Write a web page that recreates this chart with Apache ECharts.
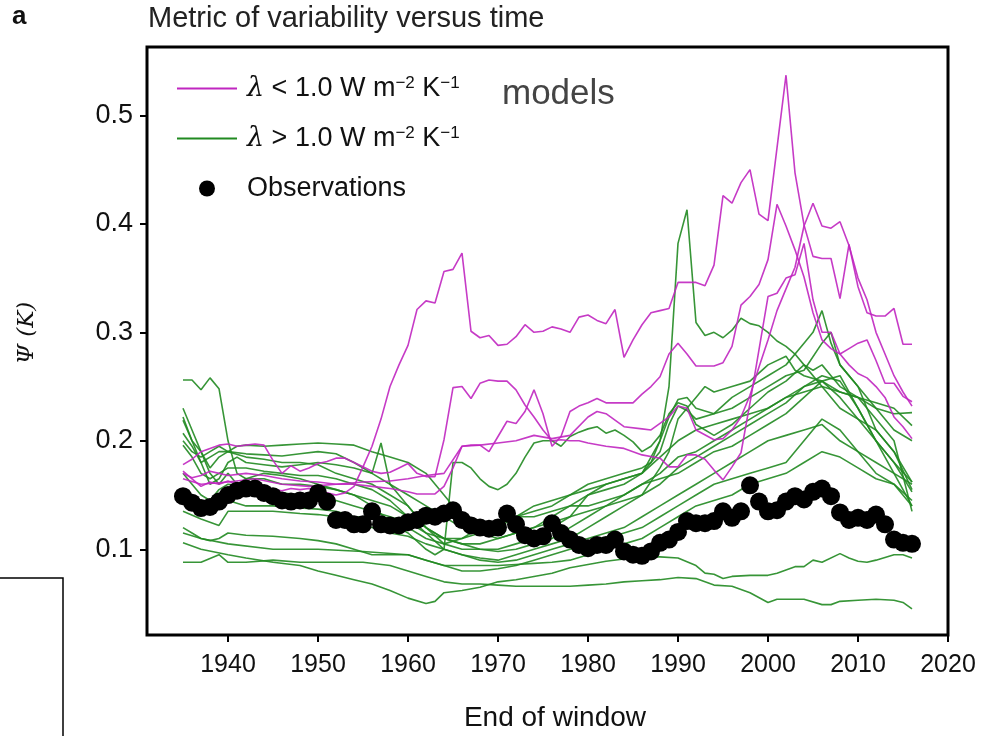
<!DOCTYPE html>
<html>
<head>
<meta charset="utf-8">
<script src="https://cdn.jsdelivr.net/npm/echarts@6/dist/echarts.min.js"></script>
<style>
  html, body { margin: 0; padding: 0; background: #fff; }
  #chart { width: 981px; height: 736px; }
</style>
</head>
<body>
<div id="chart"></div>
<script>
// observations, one per end year
const obsYears = [1935,1936,1937,1938,1939,1940,1941,1942,1943,1944,1945,1946,1947,1948,1949,1950,1951,1952,1953,1954,1955,1956,1957,1958,1959,1960,1961,1962,1963,1964,1965,1966,1967,1968,1969,1970,1971,1972,1973,1974,1975,1976,1977,1978,1979,1980,1981,1982,1983,1984,1985,1986,1987,1988,1989,1990,1991,1992,1993,1994,1995,1996,1997,1998,1999,2000,2001,2002,2003,2004,2005,2006,2007,2008,2009,2010,2011,2012,2013,2014,2015,2016]
const obsValues = [0.149,0.143,0.138,0.139,0.144,0.150,0.154,0.156,0.156,0.152,0.149,0.145,0.144,0.145,0.145,0.152,0.144,0.127,0.127,0.123,0.123,0.135,0.123,0.122,0.122,0.125,0.127,0.131,0.130,0.133,0.136,0.127,0.122,0.120,0.119,0.120,0.133,0.123,0.113,0.110,0.112,0.124,0.115,0.109,0.104,0.101,0.104,0.104,0.109,0.098,0.095,0.094,0.098,0.106,0.109,0.116,0.126,0.124,0.124,0.126,0.135,0.129,0.135,0.159,0.144,0.135,0.136,0.144,0.149,0.146,0.153,0.156,0.149,0.134,0.127,0.129,0.127,0.132,0.123,0.109,0.106,0.105]

// models with lambda < 1.0
const magA = [[1935,0.172],[1936,0.165],[1937,0.158],[1938,0.162],[1939,0.160],[1940,0.163],[1941,0.160],[1942,0.158],[1943,0.160],[1944,0.157],[1945,0.155],[1946,0.154],[1947,0.156],[1948,0.155],[1949,0.156],[1950,0.155],[1951,0.152],[1952,0.150],[1953,0.152],[1954,0.158],[1955,0.176],[1956,0.195],[1957,0.220],[1958,0.250],[1959,0.270],[1960,0.288],[1961,0.321],[1962,0.329],[1963,0.327],[1964,0.356],[1965,0.358],[1966,0.373],[1967,0.301],[1968,0.295],[1969,0.297],[1970,0.288],[1971,0.289],[1972,0.296],[1973,0.307],[1974,0.300],[1975,0.301],[1976,0.305],[1977,0.303],[1978,0.300],[1979,0.314],[1980,0.316],[1981,0.311],[1982,0.308],[1983,0.321],[1984,0.277],[1985,0.293],[1986,0.307],[1987,0.318],[1988,0.320],[1989,0.322],[1990,0.346],[1991,0.346],[1992,0.346],[1993,0.343],[1994,0.362],[1995,0.426],[1996,0.419],[1997,0.438],[1998,0.450],[1999,0.409],[2000,0.403],[2001,0.470],[2002,0.537],[2003,0.447],[2004,0.399],[2005,0.370],[2006,0.368],[2007,0.368],[2008,0.331],[2009,0.381],[2010,0.342],[2011,0.318],[2012,0.315],[2013,0.315],[2014,0.322],[2015,0.289],[2016,0.289]]
const magB = [[1935,0.170],[1936,0.166],[1937,0.168],[1938,0.172],[1939,0.170],[1940,0.168],[1942,0.170],[1944,0.168],[1946,0.165],[1948,0.163],[1950,0.162],[1952,0.160],[1954,0.160],[1956,0.158],[1958,0.156],[1960,0.153],[1961,0.151],[1962,0.151],[1963,0.151],[1964,0.158],[1965,0.175],[1966,0.195],[1967,0.196],[1968,0.196],[1969,0.190],[1970,0.204],[1971,0.218],[1972,0.216],[1973,0.227],[1974,0.247],[1975,0.225],[1976,0.195],[1977,0.204],[1978,0.227],[1979,0.232],[1980,0.235],[1981,0.239],[1982,0.235],[1983,0.235],[1984,0.235],[1985,0.235],[1986,0.243],[1987,0.250],[1988,0.259],[1989,0.280],[1990,0.290],[1991,0.280],[1992,0.269],[1993,0.269],[1994,0.269],[1995,0.272],[1996,0.287],[1997,0.325],[1998,0.333],[1999,0.344],[2000,0.367],[2001,0.418],[2002,0.398],[2003,0.376],[2004,0.351],[2005,0.318],[2006,0.293],[2007,0.285],[2008,0.280],[2009,0.285],[2010,0.290],[2011,0.293],[2012,0.274],[2013,0.253],[2014,0.253],[2015,0.241],[2016,0.236]]
const magC = [[1935,0.178],[1936,0.183],[1937,0.190],[1938,0.193],[1939,0.196],[1940,0.197],[1941,0.195],[1942,0.196],[1943,0.197],[1944,0.196],[1945,0.182],[1946,0.170],[1947,0.177],[1948,0.172],[1949,0.175],[1950,0.179],[1951,0.181],[1952,0.184],[1953,0.184],[1954,0.180],[1955,0.176],[1956,0.172],[1957,0.170],[1958,0.171],[1959,0.175],[1960,0.179],[1961,0.170],[1962,0.167],[1963,0.167],[1964,0.201],[1965,0.249],[1966,0.250],[1967,0.239],[1968,0.253],[1969,0.256],[1970,0.255],[1971,0.255],[1972,0.247],[1973,0.233],[1974,0.222],[1975,0.210],[1976,0.200],[1977,0.201],[1978,0.200],[1979,0.200],[1980,0.198],[1982,0.195],[1984,0.193],[1986,0.187],[1988,0.184],[1989,0.176],[1990,0.176],[1991,0.187],[1992,0.187],[1993,0.183],[1994,0.173],[1995,0.164],[1996,0.176],[1997,0.189],[1998,0.235],[1999,0.284],[2000,0.333],[2001,0.336],[2002,0.350],[2003,0.353],[2004,0.382],[2005,0.330],[2006,0.300],[2007,0.300],[2008,0.280],[2009,0.270],[2010,0.262],[2011,0.258],[2012,0.250],[2013,0.240],[2014,0.222],[2015,0.213],[2016,0.202]]
const magD = [[1935,0.165],[1937,0.160],[1940,0.162],[1943,0.165],[1946,0.160],[1949,0.158],[1952,0.160],[1955,0.162],[1958,0.163],[1960,0.165],[1962,0.168],[1964,0.170],[1966,0.195],[1968,0.196],[1970,0.198],[1972,0.200],[1974,0.205],[1976,0.202],[1978,0.205],[1980,0.222],[1981,0.227],[1982,0.225],[1984,0.213],[1986,0.211],[1987,0.210],[1989,0.222],[1990,0.232],[1991,0.230],[1992,0.210],[1994,0.201],[1995,0.202],[1996,0.210],[1997,0.222],[1998,0.242],[1999,0.268],[2000,0.293],[2001,0.320],[2002,0.340],[2003,0.360],[2004,0.398],[2005,0.419],[2006,0.398],[2007,0.396],[2008,0.402],[2009,0.380],[2010,0.350],[2011,0.330],[2012,0.300],[2013,0.280],[2014,0.260],[2015,0.245],[2016,0.232]]

// models with lambda > 1.0
const grnA = [[1935,0.256],[1936,0.256],[1937,0.247],[1938,0.258],[1939,0.248],[1940,0.200],[1941,0.170],[1942,0.165],[1944,0.170],[1946,0.168],[1948,0.165],[1950,0.160],[1952,0.155],[1954,0.150],[1956,0.140],[1958,0.125],[1960,0.115],[1962,0.100],[1963,0.095],[1964,0.100],[1965,0.180],[1966,0.180],[1967,0.175],[1968,0.165],[1969,0.158],[1970,0.155],[1971,0.160],[1972,0.170],[1973,0.185],[1974,0.198],[1975,0.200],[1976,0.200],[1977,0.195],[1978,0.204],[1979,0.208],[1980,0.211],[1981,0.213],[1982,0.207],[1983,0.210],[1984,0.205],[1985,0.199],[1986,0.190],[1987,0.195],[1988,0.205],[1989,0.225],[1990,0.235],[1991,0.232],[1992,0.215],[1994,0.205],[1996,0.215],[1998,0.230],[2000,0.245],[2002,0.255],[2004,0.270],[2005,0.265],[2006,0.270],[2007,0.260],[2008,0.250],[2010,0.240],[2012,0.230],[2014,0.225],[2016,0.226]]
const grnB = [[1935,0.230],[1936,0.210],[1937,0.190],[1938,0.175],[1939,0.185],[1940,0.190],[1941,0.195],[1942,0.196],[1944,0.195],[1946,0.196],[1948,0.197],[1950,0.198],[1952,0.197],[1954,0.196],[1956,0.190],[1958,0.185],[1960,0.180],[1962,0.170],[1964,0.150],[1966,0.130],[1968,0.115],[1970,0.110],[1972,0.115],[1974,0.120],[1976,0.125],[1978,0.130],[1980,0.135],[1982,0.140],[1984,0.145],[1986,0.150],[1988,0.175],[1989,0.190],[1990,0.220],[1991,0.230],[1992,0.240],[1993,0.250],[1994,0.245],[1996,0.250],[1998,0.255],[2000,0.270],[2002,0.278],[2003,0.265],[2004,0.260],[2006,0.255],[2008,0.260],[2010,0.230],[2012,0.200],[2014,0.180],[2016,0.162]]
const grnC = [[1935,0.222],[1936,0.200],[1937,0.180],[1938,0.160],[1939,0.165],[1940,0.180],[1941,0.185],[1942,0.180],[1944,0.178],[1946,0.176],[1948,0.178],[1950,0.180],[1952,0.178],[1954,0.175],[1956,0.170],[1957,0.198],[1958,0.160],[1960,0.140],[1962,0.120],[1964,0.105],[1966,0.100],[1968,0.100],[1970,0.100],[1972,0.105],[1974,0.110],[1976,0.120],[1978,0.130],[1980,0.150],[1982,0.160],[1984,0.165],[1986,0.170],[1988,0.200],[1989,0.250],[1990,0.382],[1991,0.413],[1992,0.309],[1993,0.297],[1994,0.300],[1995,0.295],[1996,0.302],[1997,0.313],[1998,0.308],[1999,0.306],[2000,0.300],[2001,0.292],[2002,0.287],[2003,0.280],[2004,0.270],[2006,0.250],[2008,0.230],[2010,0.220],[2012,0.200],[2014,0.170],[2016,0.140]]
const grnD = [[1935,0.219],[1936,0.200],[1937,0.190],[1938,0.170],[1939,0.160],[1940,0.170],[1941,0.160],[1942,0.165],[1944,0.165],[1946,0.160],[1948,0.160],[1950,0.158],[1952,0.155],[1954,0.150],[1956,0.145],[1958,0.140],[1960,0.130],[1962,0.120],[1964,0.110],[1966,0.110],[1968,0.115],[1970,0.120],[1972,0.130],[1974,0.140],[1976,0.145],[1978,0.150],[1980,0.155],[1982,0.160],[1984,0.165],[1986,0.170],[1988,0.190],[1989,0.215],[1990,0.232],[1991,0.228],[1992,0.220],[1994,0.225],[1996,0.240],[1998,0.250],[2000,0.260],[2002,0.270],[2004,0.290],[2005,0.300],[2006,0.320],[2007,0.290],[2008,0.270],[2010,0.250],[2012,0.210],[2014,0.190],[2016,0.155]]
const grnE = [[1935,0.207],[1936,0.195],[1937,0.180],[1938,0.185],[1939,0.190],[1940,0.190],[1942,0.185],[1944,0.183],[1946,0.180],[1948,0.180],[1950,0.178],[1952,0.170],[1954,0.165],[1956,0.160],[1958,0.150],[1960,0.140],[1962,0.120],[1964,0.110],[1966,0.105],[1968,0.100],[1970,0.098],[1972,0.100],[1974,0.105],[1976,0.110],[1978,0.120],[1980,0.130],[1982,0.140],[1984,0.150],[1986,0.160],[1988,0.170],[1990,0.185],[1992,0.190],[1994,0.200],[1996,0.210],[1998,0.220],[2000,0.230],[2002,0.240],[2004,0.250],[2006,0.255],[2008,0.245],[2010,0.240],[2012,0.235],[2014,0.230],[2016,0.214]]
const grnF = [[1935,0.196],[1936,0.185],[1937,0.170],[1938,0.165],[1939,0.170],[1940,0.175],[1942,0.175],[1944,0.172],[1946,0.170],[1948,0.168],[1950,0.168],[1952,0.165],[1954,0.160],[1956,0.155],[1958,0.145],[1960,0.130],[1962,0.115],[1964,0.100],[1966,0.095],[1968,0.092],[1970,0.090],[1972,0.095],[1974,0.100],[1976,0.105],[1978,0.110],[1980,0.120],[1982,0.130],[1984,0.140],[1986,0.150],[1988,0.160],[1990,0.175],[1992,0.185],[1994,0.195],[1996,0.205],[1998,0.215],[2000,0.225],[2002,0.235],[2004,0.250],[2006,0.260],[2008,0.255],[2010,0.230],[2012,0.200],[2014,0.180],[2016,0.153]]
const grnG = [[1935,0.170],[1936,0.160],[1937,0.150],[1938,0.145],[1939,0.155],[1940,0.160],[1942,0.158],[1944,0.155],[1946,0.152],[1948,0.150],[1950,0.148],[1952,0.145],[1954,0.140],[1956,0.135],[1958,0.130],[1960,0.125],[1962,0.115],[1964,0.110],[1966,0.105],[1968,0.105],[1970,0.110],[1972,0.115],[1974,0.120],[1976,0.130],[1978,0.140],[1980,0.150],[1982,0.155],[1984,0.160],[1986,0.170],[1988,0.185],[1990,0.200],[1992,0.210],[1994,0.215],[1996,0.220],[1998,0.225],[2000,0.230],[2002,0.240],[2004,0.245],[2006,0.250],[2008,0.245],[2010,0.240],[2012,0.220],[2014,0.200],[2016,0.135]]
const grnH = [[1935,0.135],[1937,0.128],[1939,0.122],[1940,0.135],[1942,0.135],[1945,0.135],[1948,0.133],[1950,0.132],[1952,0.130],[1954,0.128],[1956,0.120],[1958,0.115],[1960,0.112],[1962,0.105],[1964,0.100],[1966,0.095],[1968,0.090],[1970,0.088],[1972,0.090],[1974,0.095],[1976,0.100],[1978,0.105],[1980,0.110],[1982,0.115],[1984,0.120],[1986,0.130],[1988,0.140],[1990,0.150],[1992,0.160],[1994,0.170],[1996,0.180],[1998,0.190],[2000,0.200],[2002,0.205],[2004,0.210],[2006,0.215],[2008,0.200],[2010,0.190],[2012,0.180],[2014,0.170],[2016,0.160]]
const grnI = [[1935,0.120],[1936,0.115],[1937,0.110],[1938,0.108],[1939,0.110],[1940,0.115],[1942,0.113],[1945,0.112],[1948,0.110],[1950,0.108],[1952,0.105],[1954,0.100],[1956,0.095],[1958,0.095],[1960,0.095],[1962,0.090],[1964,0.085],[1966,0.080],[1968,0.080],[1970,0.082],[1972,0.085],[1974,0.090],[1976,0.095],[1978,0.100],[1980,0.105],[1982,0.110],[1984,0.115],[1986,0.120],[1988,0.130],[1990,0.140],[1992,0.150],[1994,0.160],[1996,0.165],[1998,0.170],[2000,0.175],[2002,0.180],[2004,0.200],[2006,0.220],[2008,0.210],[2010,0.190],[2012,0.170],[2014,0.160],[2016,0.145]]
const grnJ = [[1935,0.106],[1937,0.100],[1940,0.095],[1942,0.092],[1945,0.088],[1948,0.085],[1950,0.080],[1952,0.076],[1954,0.072],[1956,0.068],[1958,0.062],[1960,0.055],[1962,0.050],[1963,0.052],[1964,0.060],[1966,0.062],[1968,0.065],[1970,0.070],[1972,0.072],[1974,0.075],[1976,0.078],[1978,0.083],[1980,0.086],[1982,0.089],[1984,0.091],[1986,0.093],[1988,0.093],[1990,0.092],[1992,0.085],[1993,0.078],[1994,0.077],[1995,0.073],[1996,0.075],[1998,0.076],[2000,0.076],[2001,0.078],[2003,0.084],[2004,0.084],[2005,0.090],[2006,0.088],[2008,0.096],[2009,0.092],[2010,0.089],[2011,0.088],[2012,0.090],[2014,0.095],[2015,0.095],[2016,0.092]]
const grnK = [[1935,0.088],[1937,0.088],[1939,0.095],[1940,0.088],[1942,0.088],[1945,0.090],[1948,0.088],[1950,0.088],[1952,0.088],[1955,0.088],[1958,0.085],[1960,0.080],[1962,0.075],[1964,0.070],[1966,0.068],[1968,0.068],[1970,0.067],[1972,0.066],[1974,0.066],[1976,0.066],[1978,0.066],[1980,0.067],[1982,0.068],[1984,0.070],[1986,0.071],[1988,0.072],[1990,0.074],[1992,0.073],[1994,0.067],[1996,0.066],[1998,0.060],[2000,0.051],[2001,0.054],[2004,0.054],[2006,0.049],[2007,0.049],[2008,0.052],[2010,0.053],[2012,0.054],[2014,0.053],[2015,0.051],[2016,0.045]]
const grnL = [[1935,0.155],[1936,0.150],[1937,0.140],[1938,0.135],[1939,0.140],[1940,0.145],[1942,0.140],[1945,0.140],[1948,0.138],[1950,0.137],[1952,0.135],[1954,0.130],[1956,0.130],[1958,0.128],[1960,0.120],[1962,0.110],[1964,0.105],[1966,0.110],[1968,0.120],[1970,0.125],[1972,0.130],[1974,0.130],[1976,0.135],[1978,0.140],[1980,0.140],[1982,0.145],[1984,0.150],[1986,0.160],[1988,0.165],[1990,0.170],[1992,0.180],[1994,0.190],[1996,0.195],[1998,0.205],[2000,0.215],[2002,0.225],[2004,0.240],[2006,0.255],[2008,0.240],[2010,0.220],[2012,0.210],[2014,0.190],[2016,0.162]]
const grnM = [[1935,0.200],[1936,0.190],[1937,0.185],[1938,0.190],[1939,0.195],[1940,0.190],[1942,0.188],[1944,0.187],[1946,0.186],[1948,0.188],[1950,0.190],[1952,0.188],[1954,0.180],[1956,0.170],[1958,0.160],[1960,0.150],[1962,0.140],[1964,0.130],[1966,0.120],[1968,0.120],[1970,0.125],[1972,0.130],[1974,0.135],[1976,0.140],[1978,0.150],[1980,0.160],[1982,0.165],[1984,0.170],[1986,0.175],[1987,0.180],[1988,0.200],[1989,0.222],[1990,0.238],[1991,0.240],[1992,0.230],[1994,0.225],[1996,0.230],[1998,0.240],[2000,0.250],[2002,0.260],[2004,0.265],[2006,0.290],[2007,0.300],[2008,0.270],[2010,0.250],[2012,0.230],[2014,0.210],[2016,0.200]]
const grnN = [[1935,0.115],[1937,0.110],[1940,0.105],[1945,0.100],[1950,0.100],[1955,0.098],[1960,0.095],[1962,0.090],[1964,0.085],[1966,0.085],[1968,0.085],[1970,0.085],[1972,0.086],[1974,0.087],[1976,0.088],[1978,0.090],[1980,0.095],[1982,0.100],[1984,0.105],[1986,0.110],[1988,0.120],[1990,0.130],[1992,0.140],[1994,0.145],[1996,0.150],[1998,0.160],[2000,0.165],[2002,0.170],[2004,0.180],[2006,0.190],[2008,0.185],[2010,0.175],[2012,0.165],[2014,0.160],[2016,0.140]]

const xTicks = [1940, 1950, 1960, 1970, 1980, 1990, 2000, 2010, 2020]
const yTicks = [0.1, 0.2, 0.3, 0.4, 0.5]

const LOW_NAME = 'low'
const HIGH_NAME = 'high'
const OBS_NAME = 'Observations'
const MAGENTA = '#c026c0'
const GREEN = '#218a21'
const SANS = 'Liberation Sans, Arial, Helvetica, sans-serif'

const chart = echarts.init(document.getElementById('chart'), null, { renderer: 'canvas' })

const modelSeries = (list, name, color) =>
  list.map(d => ({
    type: 'line',
    name,
    data: d,
    symbol: 'none',
    silent: true,
    z: 2,
    lineStyle: { width: 1.6, color, opacity: 0.9 },
    itemStyle: { color },
  }))

// thin bar used as the legend mark for the model lines
const lineIcon = 'path://M0,0H60V2H0Z'

const option = {
  animation: false,
  backgroundColor: '#fff',
  grid: {
    left: 147,
    right: 33,
    top: 47,
    bottom: 101,
    show: true,
    borderColor: '#000',
    borderWidth: 3,
  },
  xAxis: {
    type: 'value',
    min: 1931,
    max: 2020,
    axisLine: { show: false },
    splitLine: { show: false },
    axisTick: {
      show: true,
      length: 7,
      lineStyle: { color: '#000', width: 2 },
      customValues: xTicks,
    },
    axisLabel: {
      fontFamily: SANS,
      color: '#111',
      fontSize: 25,
      margin: 18,
      customValues: xTicks,
      formatter: v => String(v),
    },
  },
  yAxis: {
    type: 'value',
    min: 0.021,
    max: 0.563,
    axisLine: { show: false },
    splitLine: { show: false },
    axisTick: {
      show: true,
      length: 7,
      lineStyle: { color: '#000', width: 2 },
      customValues: yTicks,
    },
    axisLabel: {
      fontFamily: SANS,
      color: '#111',
      fontSize: 27,
      margin: 14,
      customValues: yTicks,
      formatter: v => v.toFixed(1),
    },
  },
  legend: {
    orient: 'vertical',
    left: 172,
    top: 70,
    itemWidth: 60,
    itemHeight: 16,
    itemGap: 23,
    selectedMode: false,
    data: [
      { name: LOW_NAME, icon: lineIcon },
      { name: HIGH_NAME, icon: lineIcon },
      { name: OBS_NAME, icon: 'circle' },
    ],
    formatter: name => {
      if (name === LOW_NAME) return '{it|λ} < 1.0 W m{sup|−2} K{sup|−1}'
      if (name === HIGH_NAME) return '{it|λ} > 1.0 W m{sup|−2} K{sup|−1}'
      return name
    },
    textStyle: {
      fontFamily: SANS,
      fontSize: 27,
      color: '#111',
      padding: [0, 0, 0, 5],
      rich: {
        it: { fontSize: 27, fontStyle: 'italic', fontFamily: 'DejaVu Serif, serif', color: '#111' },
        sup: { fontSize: 17, verticalAlign: 'top', color: '#111', lineHeight: 17 },
      },
    },
  },
  graphic: [
    { type: 'text', left: 12, top: 4, style: { text: 'a', fontSize: 26, fontWeight: 'bold', fontFamily: SANS, fill: '#111' } },
    { type: 'text', left: 148, top: 4, style: { text: 'Metric of variability versus time', fontSize: 29, fontFamily: SANS, fill: '#222' } },
    { type: 'text', left: 502, top: 77, style: { text: 'models', fontSize: 35, fontFamily: SANS, fill: '#444' } },
    { type: 'text', x: 27, y: 333, rotation: Math.PI / 2, style: { text: 'Ψ (K)', fontSize: 23, fontStyle: 'italic', fontFamily: 'DejaVu Serif, serif', fill: '#111', textAlign: 'center', textVerticalAlign: 'middle' } },
    { type: 'text', x: 555, y: 718, style: { text: 'End of window', fontSize: 28, fontFamily: SANS, fill: '#111', textAlign: 'center', textVerticalAlign: 'middle' } },
    { type: 'rect', shape: { x: -2, y: 578, width: 65, height: 162 }, style: { fill: 'none', stroke: '#000', lineWidth: 1.5 } },
  ],
  series: [
    ...modelSeries([grnA, grnB, grnC, grnD, grnE, grnF, grnG, grnH, grnI, grnJ, grnK, grnL, grnM, grnN], HIGH_NAME, GREEN),
    ...modelSeries([magA, magB, magC, magD], LOW_NAME, MAGENTA),
    {
      type: 'scatter',
      name: OBS_NAME,
      data: obsYears.map((y, i) => [y, obsValues[i]]),
      symbol: 'circle',
      symbolSize: 18,
      z: 5,
      silent: true,
      itemStyle: { color: '#000', opacity: 1 },
    },
  ],
}

chart.setOption(option)
</script>
</body>
</html>
